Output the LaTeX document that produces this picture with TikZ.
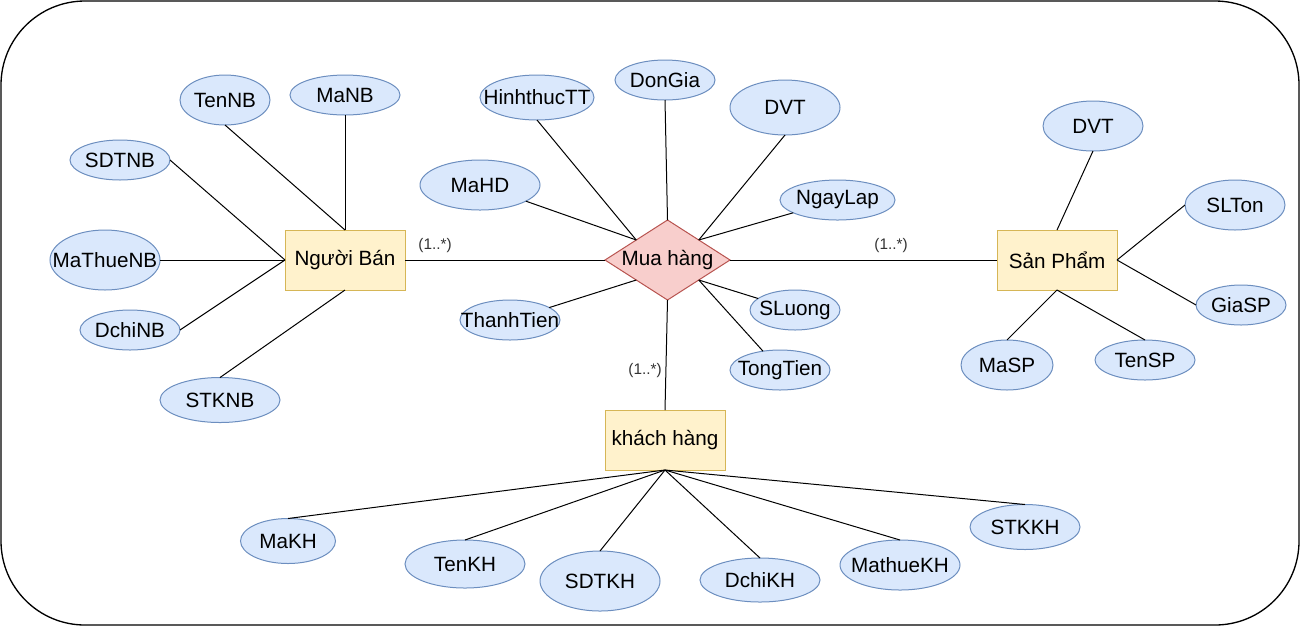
\documentclass[tikz,border=0pt]{standalone}
\usepackage{fontspec}
\setmainfont{Liberation Sans}
\usepackage{tikz}
\usetikzlibrary{shapes.geometric}

\definecolor{attrfill}{HTML}{DAE8FC}
\definecolor{attrline}{HTML}{6C8EBF}
\definecolor{entfill}{HTML}{FFF2CC}
\definecolor{entline}{HTML}{D6B656}
\definecolor{relfill}{HTML}{F8CECC}
\definecolor{relline}{HTML}{B85450}
\definecolor{cardtext}{HTML}{333333}

\newcommand{\erfont}{\fontsize{15.5}{18}\selectfont}

\begin{document}
\begin{tikzpicture}[
    x=0.75pt, y=-0.75pt,
    sz/.style 2 args={minimum width=#1*0.75pt, minimum height=#2*0.75pt},
    attr/.style={ellipse, draw=attrline, fill=attrfill, line width=0.75pt,
                inner xsep=-12pt, inner ysep=0pt, outer sep=0pt, font=\erfont},
    entity/.style={rectangle, draw=entline, fill=entfill, line width=0.75pt,
                sz={120}{60}, inner sep=1pt, outer sep=0pt, font=\erfont},
    relation/.style={diamond, draw=relline, fill=relfill, line width=0.75pt,
                aspect=1.5625, sz={125}{80}, inner sep=-4pt, outer sep=0pt,
                font=\erfont},
    card/.style={font=\fontsize{11.5}{13}\selectfont, text=cardtext, inner sep=0pt},
    link/.style={draw=black, line width=0.75pt},
]
\useasboundingbox (0,0) rectangle (1301,626);

% Khung ngoai
\draw[line width=1pt, rounded corners=63pt] (1,1) rectangle (1299,625);

% Thuc the va quan he
\node[entity] (nb) at (345,260) {Người Bán};
\node[entity] (sp) at (1057,260) {Sản Phẩm};
\node[entity] (kh) at (665,440) {khách hàng};
\node[relation] (mh) at (667.5,260) {Mua hàng};

% Thuoc tinh Người Bán
\node[attr, sz={90}{50}] (tennb) at (225,100) {TenNB};
\node[attr, sz={110}{40}] (manb) at (345,95) {MaNB};
\node[attr, sz={100}{40}] (sdtnb) at (120,160) {SDTNB};
\node[attr, sz={110}{60}] (mathuenb) at (105,260) {MaThueNB};
\node[attr, sz={100}{40}] (dchinb) at (130,330) {DchiNB};
\node[attr, sz={120}{45}] (stknb) at (220,400) {STKNB};

% Thuoc tinh Mua hàng
\node[attr, sz={114}{45}] (hinhthuctt) at (537,97.5) {HinhthucTT};
\node[attr, sz={100}{40}] (dongia) at (665,80) {DonGia};
\node[attr, sz={110}{55}] (dvtmh) at (785,107.5) {DVT};
\node[attr, sz={120}{50}] (mahd) at (480,185) {MaHD};
\node[attr, sz={115}{40}] (ngaylap) at (837.5,200) {NgayLap};
\node[attr, sz={100}{40}] (thanhtien) at (510,320) {ThanhTien};
\node[attr, sz={90}{40}] (sluong) at (795,310) {SLuong};
\node[attr, sz={100}{40}] (tongtien) at (780,370) {TongTien};

% Thuoc tinh Sản Phẩm
\node[attr, sz={100}{50}] (dvtsp) at (1093,126) {DVT};
\node[attr, sz={100}{50}] (slton) at (1235,205) {SLTon};
\node[attr, sz={90}{40}] (giasp) at (1241,305) {GiaSP};
\node[attr, sz={92}{50}] (masp) at (1007,365) {MaSP};
\node[attr, sz={100}{40}] (tensp) at (1145,360) {TenSP};

% Thuoc tinh khách hàng
\node[attr, sz={95}{45}] (makh) at (288,541) {MaKH};
\node[attr, sz={120}{48}] (tenkh) at (465,564) {TenKH};
\node[attr, sz={120}{60}] (sdtkh) at (600,581) {SDTKH};
\node[attr, sz={120}{44}] (dchikh) at (760,580) {DchiKH};
\node[attr, sz={120}{50}] (mathuekh) at (900,565) {MathueKH};
\node[attr, sz={110}{45}] (stkkh) at (1025,527) {STKKH};

% Ban so
\node[card] (cardnb) at (435,246) {(1..*)};
\node[card] (cardsp) at (891,246) {(1..*)};
\node[card] (cardkh) at (645,371) {(1..*)};

% Duong noi quan he
\draw[link] (nb.east) -- (mh.west);
\draw[link] (mh.east) -- (sp.west);
\draw[link] (mh.south) -- (kh.north);

% Duong noi Người Bán
\draw[link] (tennb.south) -- (nb.north);
\draw[link] (manb.south) -- (nb.north);
\draw[link] (sdtnb.east) -- (nb.west);
\draw[link] (mathuenb.east) -- (nb.west);
\draw[link] (dchinb.east) -- (nb.west);
\draw[link] (stknb.north) -- (nb.south);

% Duong noi Mua hàng
\draw[link] (hinhthuctt.south) -- (mh.north west);
\draw[link] (mahd) -- (mh.north west);
\draw[link] (dongia.south) -- (mh.north);
\draw[link] (dvtmh.south) -- (mh.north east);
\draw[link] (ngaylap) -- (mh.north east);
\draw[link] (thanhtien) -- (mh.south west);
\draw[link] (sluong) -- (mh.south east);
\draw[link] (tongtien) -- (mh.south east);

% Duong noi Sản Phẩm
\draw[link] (dvtsp.south) -- (sp.north);
\draw[link] (slton.west) -- (sp.east);
\draw[link] (giasp.west) -- (sp.east);
\draw[link] (masp.north) -- (sp.south);
\draw[link] (tensp.north) -- (sp.south);

% Duong noi khách hàng
\draw[link] (kh.south) -- (makh.north);
\draw[link] (kh.south) -- (tenkh.north);
\draw[link] (kh.south) -- (sdtkh.north);
\draw[link] (kh.south) -- (dchikh.north);
\draw[link] (kh.south) -- (mathuekh.north);
\draw[link] (kh.south) -- (stkkh.north);

\end{tikzpicture}
\end{document}
